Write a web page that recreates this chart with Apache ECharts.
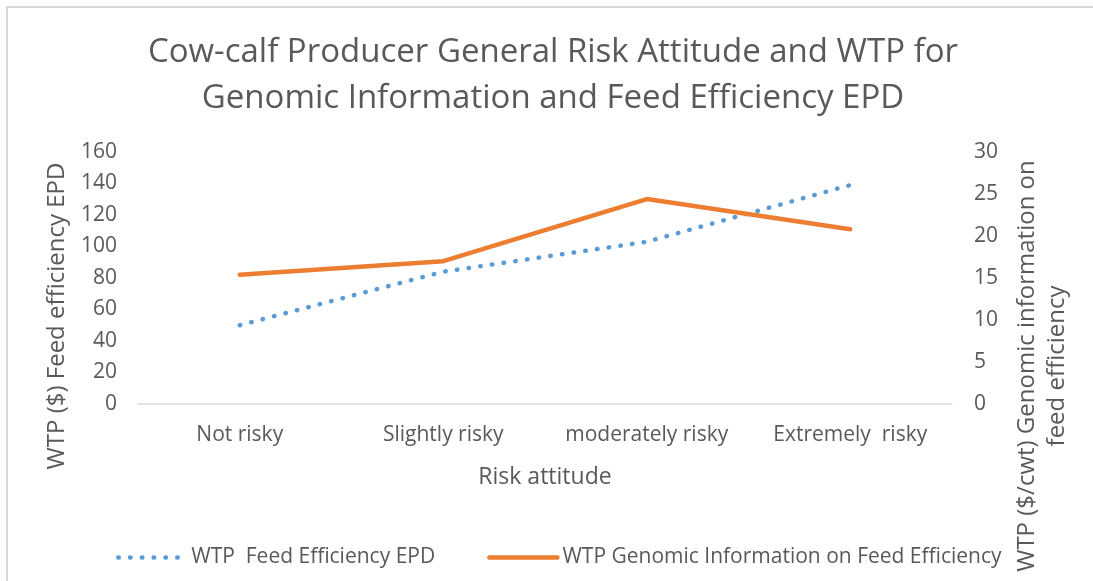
<!DOCTYPE html>
<html>
<head>
<meta charset="utf-8">
<script src="https://cdn.jsdelivr.net/npm/echarts@6/dist/echarts.min.js"></script>
<style>
  html, body { margin: 0; padding: 0; background: #fff; }
  #main { width: 1093px; height: 581px; }
</style>
</head>
<body>
<div id="main"></div>
<script>
// data
var categories = ['Not risky', 'Slightly risky', 'moderately risky', 'Extremely  risky'];
var feedEpd = [50, 84, 103, 139];          // left axis, $
var genomicInfo = [15.4, 17.0, 24.4, 20.8]; // right axis, $/cwt
var leftTicks = { min: 0, max: 160, interval: 20 };
var rightTicks = { min: 0, max: 30, interval: 5 };

var font = '"Open Sans", sans-serif';
var grey = '#595959';

var chart = echarts.init(document.getElementById('main'));
option = {
    backgroundColor: '#fff',
    animation: false,
    textStyle: { fontFamily: font },
    grid: { left: 138, right: 141, top: 152, bottom: 177 },
    legend: {
        left: 111,
        top: 542,
        itemWidth: 68,
        itemHeight: 14,
        itemGap: 52,
        itemStyle: { opacity: 0 },
        lineStyle: { width: 4.5, cap: 'round' },
        textStyle: { fontSize: 21, color: grey, fontFamily: font },
        data: ['WTP  Feed Efficiency EPD', 'WTP Genomic Information on Feed Efficiency']
    },
    xAxis: {
        type: 'category',
        data: categories,
        axisLine: { lineStyle: { color: '#d9d9d9', width: 1.5 } },
        axisTick: { show: false },
        axisLabel: { fontSize: 21, color: grey, margin: 21, interval: 0 }
    },
    yAxis: [
        {
            type: 'value',
            min: leftTicks.min, max: leftTicks.max, interval: leftTicks.interval,
            splitLine: { show: false },
            axisLine: { show: false },
            axisLabel: { fontSize: 21, color: grey, margin: 21 }
        },
        {
            type: 'value',
            position: 'right',
            min: rightTicks.min, max: rightTicks.max, interval: rightTicks.interval,
            splitLine: { show: false },
            axisLine: { show: false },
            axisLabel: { fontSize: 21, color: grey, margin: 22 }
        }
    ],
    series: [
        {
            name: 'WTP  Feed Efficiency EPD',
            type: 'line',
            data: feedEpd,
            yAxisIndex: 0,
            symbol: 'none',
            lineStyle: { color: '#5B9BD5', width: 4.5, type: [0.5, 11.3], cap: 'round' },
            itemStyle: { color: '#5B9BD5' }
        },
        {
            name: 'WTP Genomic Information on Feed Efficiency',
            type: 'line',
            data: genomicInfo,
            yAxisIndex: 1,
            symbol: 'none',
            lineStyle: { color: '#ED7D31', width: 4.5, cap: 'round' },
            itemStyle: { color: '#ED7D31' }
        }
    ],
    graphic: [
        {
            type: 'rect', silent: true, z: -1,
            shape: { x: 7, y: 7, width: 1200, height: 700 },
            style: { fill: '#fff', stroke: '#d9d9d9', lineWidth: 2 }
        },
        {
            type: 'text', x: 553, y: 30,
            style: {
                text: 'Cow-calf Producer General Risk Attitude and WTP for\nGenomic Information and Feed Efficiency EPD',
                font: '33px ' + font, fill: grey, textAlign: 'center', lineHeight: 46
            }
        },
        {
            type: 'text', x: 545, y: 477,
            style: { text: 'Risk attitude', font: '23px ' + font, fill: grey, textAlign: 'center', textVerticalAlign: 'middle' }
        },
        {
            type: 'text', x: 57, y: 316, rotation: Math.PI / 2,
            style: { text: 'WTP ($) Feed efficiency EPD', font: '24px ' + font, fill: grey, textAlign: 'center', textVerticalAlign: 'middle' }
        },
        {
            type: 'text', x: 1042, y: 366, rotation: Math.PI / 2,
            style: {
                text: 'WTP ($/cwt) Genomic information on\nfeed efficiency',
                font: '24px ' + font, fill: grey, textAlign: 'center', textVerticalAlign: 'middle', lineHeight: 30
            }
        }
    ]
};
chart.setOption(option);
</script>
</body>
</html>
